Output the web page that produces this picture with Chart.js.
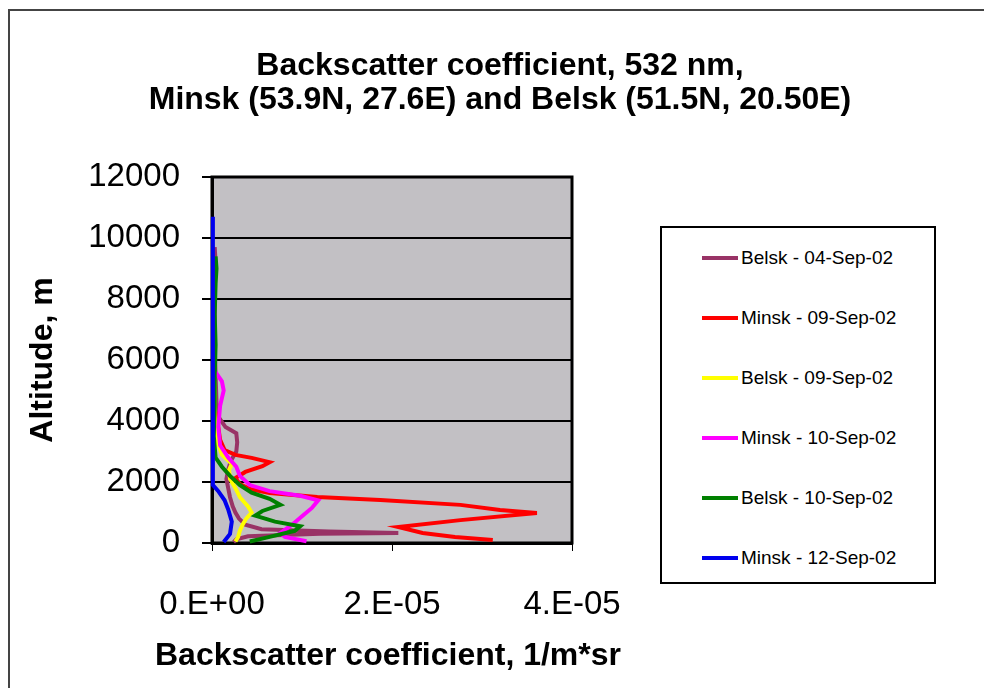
<!DOCTYPE html>
<html>
<head>
<meta charset="utf-8">
<script src="https://cdn.jsdelivr.net/npm/chart.js"></script>
<style>
  body { margin: 0; background: #fff; font-family: "Liberation Sans", Arial, sans-serif; }
  #wrap { position: relative; width: 984px; height: 688px; overflow: hidden; }
  #frame { position: absolute; left: 8px; top: 9px; width: 1000px; height: 700px;
           border-left: 2px solid #444; border-top: 2px solid #444; }
  #c { position: absolute; left: 0; top: 0; }
  #title { position: absolute; left: 0; top: 47px; width: 1000px; text-align: center;
           font-weight: bold; font-size: 32px; line-height: 34px; color: #000; }
  #legend { position: absolute; left: 660px; top: 226px; width: 276px; height: 358px;
            border: 2px solid #000; box-sizing: border-box; background: #fff; }
  .item { display: flex; align-items: center; height: 60px; }
  .swatch { margin-left: 40px; width: 36px; height: 4px; }
  .lbl { margin-left: 3px; font-size: 19px; color: #000; }
</style>
</head>
<body>
<div id="wrap">
  <div id="frame"></div>
  <canvas id="c" width="984" height="688"></canvas>
  <div id="title">Backscatter coefficient, 532 nm,<br>Minsk (53.9N, 27.6E) and Belsk (51.5N, 20.50E)</div>
  <div id="legend"></div>
</div>
<script>
// altitude (m) and backscatter (1/m*sr) per profile
const belsk04Alt = [30, 120, 220, 300, 330, 380, 450, 600, 800, 1000, 1200, 1500, 1800, 2100, 2400, 2700, 3000, 3300, 3600, 3800, 4100, 4600, 5500, 6500, 7500, 8500, 9200, 9700];
const belsk04Val = [0.24e-5, 0.27e-5, 0.40e-5, 1.20e-5, 2.07e-5, 1.30e-5, 0.55e-5, 0.37e-5, 0.30e-5, 0.26e-5, 0.23e-5, 0.20e-5, 0.18e-5, 0.16e-5, 0.18e-5, 0.21e-5, 0.27e-5, 0.28e-5, 0.27e-5, 0.15e-5, 0.08e-5, 0.05e-5, 0.04e-5, 0.03e-5, 0.03e-5, 0.03e-5, 0.04e-5, 0.03e-5];

const minsk09Alt = [100, 200, 330, 525, 750, 980, 1080, 1250, 1410, 1510, 1640, 1770, 1930, 2130, 2330, 2520, 2650, 2790, 2890, 3050, 3380, 3800, 4300];
const minsk09Val = [3.12e-5, 2.70e-5, 2.34e-5, 2.07e-5, 2.76e-5, 3.61e-5, 3.20e-5, 2.76e-5, 1.87e-5, 1.17e-5, 0.64e-5, 0.42e-5, 0.31e-5, 0.26e-5, 0.37e-5, 0.56e-5, 0.64e-5, 0.44e-5, 0.26e-5, 0.14e-5, 0.09e-5, 0.07e-5, 0.05e-5];

const belsk09Alt = [50, 200, 400, 600, 800, 1000, 1200, 1500, 1800, 2100, 2400, 2600, 2900, 3500, 4200, 5000, 5800, 6500];
const belsk09Val = [0.26e-5, 0.29e-5, 0.31e-5, 0.34e-5, 0.38e-5, 0.44e-5, 0.40e-5, 0.31e-5, 0.26e-5, 0.20e-5, 0.19e-5, 0.22e-5, 0.11e-5, 0.04e-5, 0.03e-5, 0.03e-5, 0.02e-5, 0.02e-5];

const minsk10Alt = [60, 200, 330, 600, 900, 1150, 1400, 1550, 1700, 1900, 2200, 2500, 2800, 3200, 3800, 4500, 5000, 5300, 5600];
const minsk10Val = [1.05e-5, 0.81e-5, 0.76e-5, 0.89e-5, 1.01e-5, 1.11e-5, 1.18e-5, 0.98e-5, 0.64e-5, 0.42e-5, 0.31e-5, 0.27e-5, 0.18e-5, 0.09e-5, 0.07e-5, 0.09e-5, 0.13e-5, 0.11e-5, 0.04e-5];

const belsk10Alt = [50, 200, 400, 550, 700, 900, 1050, 1250, 1450, 1650, 1900, 2200, 2500, 2800, 3500, 4500, 5500, 6500, 7500, 8500, 9000, 9400];
const belsk10Val = [0.42e-5, 0.64e-5, 0.92e-5, 0.98e-5, 0.70e-5, 0.48e-5, 0.56e-5, 0.76e-5, 0.64e-5, 0.44e-5, 0.31e-5, 0.20e-5, 0.11e-5, 0.04e-5, 0.02e-5, 0.03e-5, 0.03e-5, 0.04e-5, 0.03e-5, 0.04e-5, 0.05e-5, 0.04e-5];

const minsk12Alt = [30, 300, 700, 1100, 1400, 1700, 1900, 2500, 4000, 6000, 8000, 10000, 10700];
const minsk12Val = [0.13e-5, 0.20e-5, 0.22e-5, 0.18e-5, 0.14e-5, 0.07e-5, 0.01e-5, 0.01e-5, 0.01e-5, 0.01e-5, 0.01e-5, 0.01e-5, 0.01e-5];

const seriesNames = ["Belsk - 04-Sep-02", "Minsk - 09-Sep-02", "Belsk - 09-Sep-02",
                     "Minsk - 10-Sep-02", "Belsk - 10-Sep-02", "Minsk - 12-Sep-02"];
const seriesColors = ["#993366", "#ff0000", "#ffff00", "#ff00ff", "#008000", "#0000ee"];
const seriesAlts = [belsk04Alt, minsk09Alt, belsk09Alt, minsk10Alt, belsk10Alt, minsk12Alt];
const seriesVals = [belsk04Val, minsk09Val, belsk09Val, minsk10Val, belsk10Val, minsk12Val];

const xTickValues = [0, 2e-5, 4e-5];
const xTickLabels = ["0.E+00", "2.E-05", "4.E-05"];
const xTitle = "Backscatter coefficient, 1/m*sr";

const FONT = "'Liberation Sans', Arial, sans-serif";

const datasets = seriesNames.map((name, i) => ({
  label: name,
  data: seriesAlts[i].map((a, j) => ({ x: seriesVals[i][j], y: a })),
  borderColor: seriesColors[i],
  backgroundColor: seriesColors[i],
  borderWidth: 4,
  showLine: true,
  pointRadius: 0,
  clip: 6,
  order: seriesNames.length - i,
}));

// legend box built from the same arrays
const legendEl = document.getElementById("legend");
seriesNames.forEach((name, i) => {
  const row = document.createElement("div");
  row.className = "item";
  row.innerHTML = `<span class="swatch" style="background:${seriesColors[i]}"></span><span class="lbl">${name}</span>`;
  legendEl.appendChild(row);
});

const plotFrame = {
  id: "plotFrame",
  beforeDraw(chart) {
    const { ctx, chartArea: a } = chart;
    ctx.save();
    ctx.fillStyle = "#c2c0c4";
    ctx.fillRect(a.left, a.top, a.right - a.left, a.bottom - a.top);
    ctx.restore();
  },
  beforeDatasetsDraw(chart) {
    const { ctx, chartArea: a } = chart;
    ctx.save();
    ctx.strokeStyle = "#000";
    ctx.lineWidth = 3;
    ctx.strokeRect(a.left, a.top, a.right - a.left, a.bottom - a.top);
    ctx.restore();
  },
  // x title drawn by hand: the scale title would squeeze it to the axis width
  afterDraw(chart) {
    const { ctx, chartArea: a } = chart;
    ctx.save();
    ctx.font = "bold 32px " + FONT;
    ctx.fillStyle = "#000";
    ctx.textAlign = "center";
    ctx.textBaseline = "middle";
    ctx.fillText(xTitle, (a.left + a.right) / 2 - 4, 656);
    ctx.restore();
  },
};

new Chart(document.getElementById("c"), {
  type: "scatter",
  data: { datasets },
  options: {
    responsive: false,
    animation: false,
    layout: { padding: { left: 10, top: 177, right: 412, bottom: 0 } },
    plugins: {
      legend: { display: false },
      title: { display: false },
      tooltip: { enabled: false },
    },
    scales: {
      x: {
        type: "linear",
        min: 0,
        max: 4e-5,
        afterFit: (s) => { s.height = 145; },
        afterBuildTicks: (s) => { s.ticks = xTickValues.map((v) => ({ value: v })); },
        ticks: {
          callback: (v, i) => xTickLabels[i],
          font: { family: FONT, size: 33 },
          color: "#000",
          padding: 34,
          maxRotation: 0,
        },
        grid: { drawOnChartArea: false, drawTicks: true, tickLength: 8, color: "#000", lineWidth: 1 },
        border: { color: "#000", width: 3 },
      },
      y: {
        type: "linear",
        min: 0,
        max: 12000,
        afterFit: (s) => { s.width = 202; },
        ticks: {
          stepSize: 2000,
          callback: (v) => String(v),
          font: { family: FONT, size: 33 },
          color: "#000",
          padding: 22,
        },
        grid: { color: "#000", lineWidth: 2, tickLength: 10 },
        border: { color: "#000", width: 3 },
        title: {
          display: true,
          text: "Altitude, m",
          font: { family: FONT, size: 32, weight: "bold" },
          color: "#000",
          padding: { top: 14 },
        },
      },
    },
  },
  plugins: [plotFrame],
});
</script>
</body>
</html>
